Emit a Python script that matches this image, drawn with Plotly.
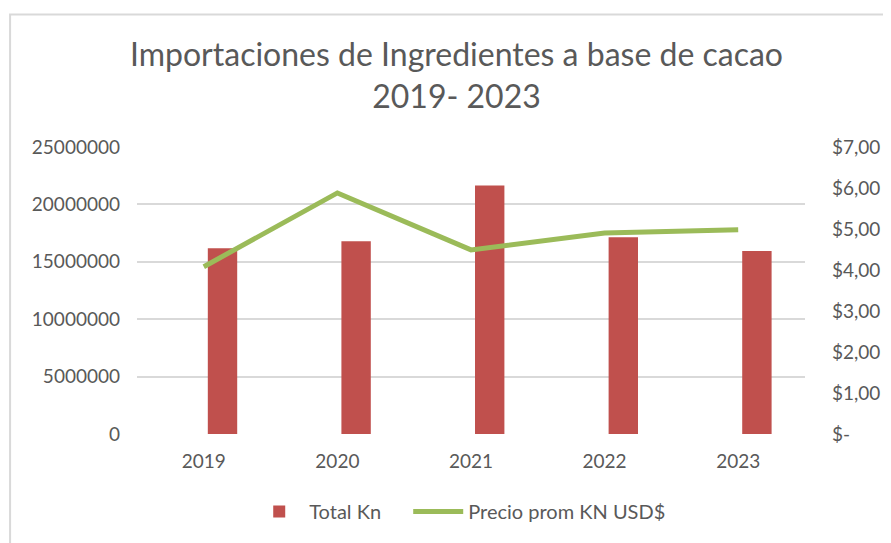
import plotly.graph_objects as go

years = ["2019", "2020", "2021", "2022", "2023"]
total_kn = [16180000, 16780000, 21640000, 17130000, 15950000]
precio_prom = [4.08, 5.88, 4.49, 4.90, 4.98]
left_ticks = [0, 5000000, 10000000, 15000000, 20000000, 25000000]
right_tickvals = [0, 1, 2, 3, 4, 5, 6, 7]
right_ticktext = ["$-", "$1,00", "$2,00", "$3,00", "$4,00", "$5,00", "$6,00", "$7,00"]

FONT = "Lato"
GRAY = "#595959"

fig = go.Figure()
fig.add_trace(go.Bar(
    x=years, y=total_kn, name="Total Kn",
    marker=dict(color="#C0504D", line=dict(width=0)),
    width=0.22, offset=0.03, yaxis="y", legend="legend",
))
fig.add_trace(go.Scatter(
    x=years, y=precio_prom, name="Precio prom KN USD$",
    mode="lines", line=dict(color="#9BBB59", width=5), yaxis="y2", legend="legend2",
))

leg_common = dict(orientation="h", yanchor="middle", y=-0.27, xanchor="left",
                  font=dict(size=20, color=GRAY), itemwidth=50, bgcolor="rgba(0,0,0,0)")

fig.update_layout(
    width=883, height=535,
    margin=dict(l=129, r=86, t=139, b=107),
    paper_bgcolor="white", plot_bgcolor="white",
    font=dict(family=FONT, color=GRAY, size=19),
    showlegend=True,
    legend=dict(x=0.168, **leg_common),
    legend2=dict(x=0.406, **leg_common),
    xaxis=dict(type="category", showgrid=False, showline=False, ticks="",
               ticklabelstandoff=14, tickfont=dict(size=19, color=GRAY)),
    yaxis=dict(range=[0, 25000000], tickvals=left_ticks, tickformat="d",
               showgrid=True, gridcolor="#D9D9D9", gridwidth=2, zeroline=False,
               showline=False, ticks="", ticklabelstandoff=16,
               tickfont=dict(size=19, color=GRAY)),
    yaxis2=dict(range=[0, 7], overlaying="y", side="right",
                tickvals=right_tickvals, ticktext=right_ticktext,
                showgrid=False, zeroline=False, showline=False, ticks="",
                ticklabelstandoff=26, tickfont=dict(size=19, color=GRAY)),
    annotations=[dict(
        text="Importaciones de Ingredientes a base de cacao<br>2019- 2023",
        xref="paper", yref="paper", x=0.478, y=1.40, xanchor="center", yanchor="top",
        showarrow=False, font=dict(family=FONT, size=32, color=GRAY),
    )],
    shapes=[dict(type="rect", xref="paper", yref="paper",
                 x0=-0.190, x1=1.2, y0=-0.5, y1=1.462,
                 line=dict(color="#D9D9D9", width=2), fillcolor="rgba(0,0,0,0)", layer="below")],
)

fig.write_html("out.html")
